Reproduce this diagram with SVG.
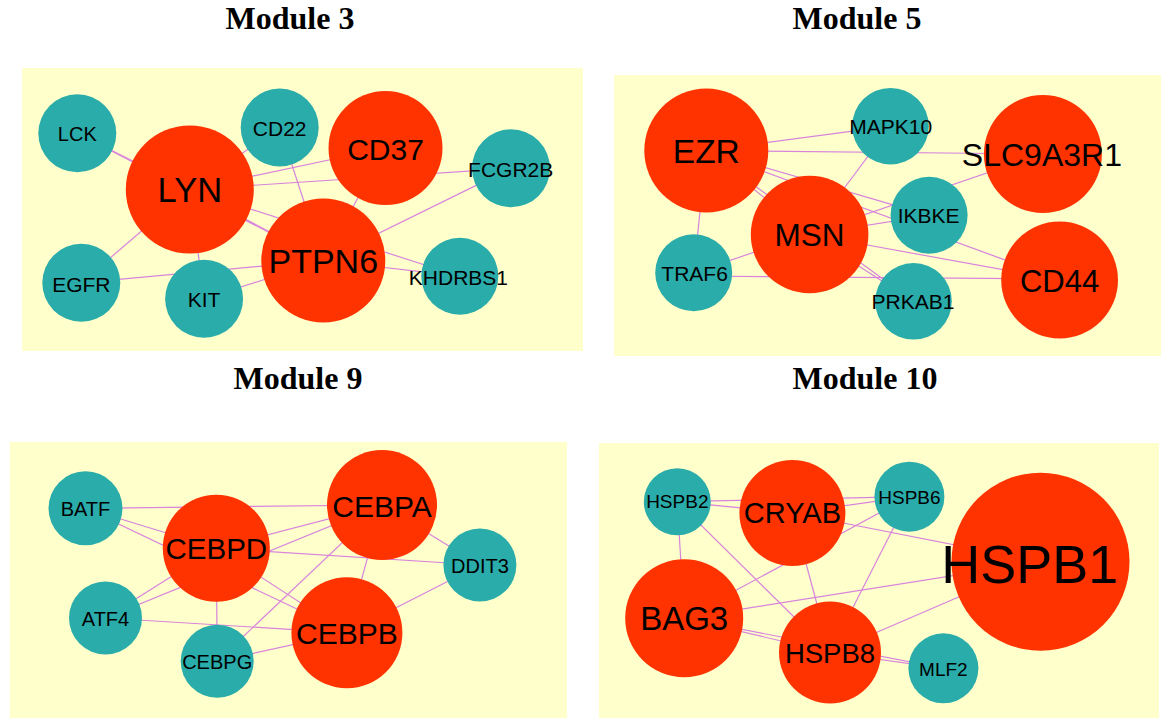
<svg xmlns="http://www.w3.org/2000/svg" width="1165" height="721" viewBox="0 0 1165 721">
<style>
.bg{fill:#FFFFCC}
.r{fill:#FF3300}
.t{fill:#2AACAA}
.e line{stroke:#D884DC;stroke-width:1.2}
.lb{font-family:"Liberation Sans",Arial,sans-serif;fill:#000;text-anchor:middle}
.ti{font-family:"Liberation Serif","Times New Roman",serif;font-weight:bold;font-size:32px;fill:#000;text-anchor:middle}
</style>
<rect width="1165" height="721" fill="#FFFFFF"/>
<text class="ti" x="290" y="28.5">Module 3</text>
<text class="ti" x="857" y="28.5">Module 5</text>
<text class="ti" x="298" y="388.5">Module 9</text>
<text class="ti" x="865" y="388.5">Module 10</text>
<rect class="bg" x="22" y="68" width="561" height="283"/>
<rect class="bg" x="614" y="75" width="547" height="281"/>
<rect class="bg" x="10" y="442" width="557" height="276"/>
<rect class="bg" x="599" y="443" width="560" height="275"/>
<g id="connectors" class="e">
<line x1="77.3" y1="133.3" x2="189.8" y2="189.5"/>
<line x1="77.3" y1="133.3" x2="323.3" y2="260.5"/>
<line x1="189.8" y1="189.5" x2="279.7" y2="127.5"/>
<line x1="189.8" y1="189.5" x2="385.5" y2="148"/>
<line x1="189.8" y1="189.5" x2="511" y2="168.3"/>
<line x1="189.8" y1="189.5" x2="323.3" y2="260.5"/>
<line x1="189.8" y1="189.5" x2="459.8" y2="276.2"/>
<line x1="279.7" y1="127.5" x2="323.3" y2="260.5"/>
<line x1="385.5" y1="148" x2="323.3" y2="260.5"/>
<line x1="323.3" y1="260.5" x2="511" y2="168.3"/>
<line x1="189.8" y1="189.5" x2="81.3" y2="282.8"/>
<line x1="189.8" y1="189.5" x2="204.1" y2="298.8"/>
<line x1="81.3" y1="282.8" x2="323.3" y2="260.5"/>
<line x1="204.1" y1="298.8" x2="323.3" y2="260.5"/>
<line x1="323.3" y1="260.5" x2="459.8" y2="276.2"/>
<line x1="706.3" y1="150.5" x2="890.5" y2="126.2"/>
<line x1="706.3" y1="150.5" x2="1042.9" y2="154"/>
<line x1="706.3" y1="150.5" x2="693.7" y2="272.8"/>
<line x1="706.3" y1="150.5" x2="809.6" y2="234.5"/>
<line x1="706.3" y1="150.5" x2="929.1" y2="215.3"/>
<line x1="706.3" y1="150.5" x2="913.5" y2="301.3"/>
<line x1="706.3" y1="150.5" x2="1059.6" y2="280"/>
<line x1="890.5" y1="126.2" x2="809.6" y2="234.5"/>
<line x1="809.6" y1="234.5" x2="929.1" y2="215.3"/>
<line x1="809.6" y1="234.5" x2="1059.6" y2="280"/>
<line x1="809.6" y1="234.5" x2="913.5" y2="301.3"/>
<line x1="693.7" y1="272.8" x2="1042.9" y2="154"/>
<line x1="693.7" y1="276" x2="1059.6" y2="279"/>
<line x1="85.5" y1="508.3" x2="382" y2="505"/>
<line x1="85.5" y1="508.3" x2="216.3" y2="548.2"/>
<line x1="85.5" y1="508.3" x2="346.9" y2="632.8"/>
<line x1="216.3" y1="548.2" x2="382" y2="505"/>
<line x1="105.5" y1="618" x2="382" y2="505"/>
<line x1="105.5" y1="618" x2="216.3" y2="548.2"/>
<line x1="217.2" y1="661.3" x2="382" y2="505"/>
<line x1="216.3" y1="548.2" x2="479.9" y2="565"/>
<line x1="382" y1="505" x2="479.9" y2="565"/>
<line x1="382" y1="505" x2="346.9" y2="632.8"/>
<line x1="479.9" y1="565" x2="346.9" y2="632.8"/>
<line x1="216.3" y1="548.2" x2="217.2" y2="661.3"/>
<line x1="105.5" y1="618" x2="346.9" y2="632.8"/>
<line x1="217.2" y1="661.3" x2="346.9" y2="632.8"/>
<line x1="216.3" y1="548.2" x2="346.9" y2="632.8"/>
<line x1="677.3" y1="501.7" x2="792.4" y2="513"/>
<line x1="677.3" y1="501.7" x2="909.4" y2="496.7"/>
<line x1="792.4" y1="513" x2="909.4" y2="496.7"/>
<line x1="677.3" y1="501.7" x2="684.2" y2="618.2"/>
<line x1="677.3" y1="501.7" x2="830" y2="652.5"/>
<line x1="792.4" y1="513" x2="1040.5" y2="561.7"/>
<line x1="909.4" y1="496.7" x2="684.2" y2="618.2"/>
<line x1="909.4" y1="496.7" x2="830" y2="652.5"/>
<line x1="792.4" y1="513" x2="830" y2="652.5"/>
<line x1="684.2" y1="618.2" x2="1040.5" y2="561.7"/>
<line x1="830" y1="652.5" x2="1040.5" y2="561.7"/>
<line x1="684.2" y1="618.2" x2="830" y2="652.5"/>
<line x1="684.2" y1="618.2" x2="943.4" y2="668.3"/>
<line x1="830" y1="652.5" x2="943.4" y2="668.3"/>
</g>
<g id="LCK"><circle class="t" cx="77.3" cy="133.3" r="39"/><text class="lb" x="77.3" y="141" font-size="20">LCK</text></g>
<g id="CD22"><circle class="t" cx="279.7" cy="127.5" r="39"/><text class="lb" x="279.7" y="136" font-size="21">CD22</text></g>
<g id="LYN"><circle class="r" cx="189.8" cy="189.5" r="64"/><text class="lb" x="189.8" y="202.3" font-size="34.5">LYN</text></g>
<g id="CD37"><circle class="r" cx="385.5" cy="148" r="57"/><text class="lb" x="385.5" y="160" font-size="30">CD37</text></g>
<g id="FCGR2B"><circle class="t" cx="511" cy="168.3" r="39"/><text class="lb" x="510.7" y="176.7" font-size="21">FCGR2B</text></g>
<g id="PTPN6"><circle class="r" cx="323.3" cy="260.5" r="62"/><text class="lb" x="323.3" y="273.3" font-size="34">PTPN6</text></g>
<g id="KHDRBS1"><circle class="t" cx="459.8" cy="276.2" r="38.5"/><text class="lb" x="458.4" y="285" font-size="21">KHDRBS1</text></g>
<g id="EGFR"><circle class="t" cx="81.3" cy="282.8" r="39"/><text class="lb" x="81.3" y="291.7" font-size="21">EGFR</text></g>
<g id="KIT"><circle class="t" cx="204.1" cy="298.8" r="39"/><text class="lb" x="204.1" y="306.7" font-size="21">KIT</text></g>
<g id="EZR"><circle class="r" cx="706.3" cy="150.5" r="62"/><text class="lb" x="706.3" y="162.7" font-size="33.5">EZR</text></g>
<g id="MAPK10"><circle class="t" cx="890.5" cy="126.2" r="38.3"/><text class="lb" x="890.7" y="134.3" font-size="21">MAPK10</text></g>
<g id="SLC9A3R1"><circle class="r" cx="1042.9" cy="154" r="59"/><text class="lb" x="1041.9" y="166" font-size="32">SLC9A3R1</text></g>
<g id="MSN"><circle class="r" cx="809.6" cy="234.5" r="58.8"/><text class="lb" x="809.6" y="246" font-size="31.5">MSN</text></g>
<g id="IKBKE"><circle class="t" cx="929.1" cy="215.3" r="38.5"/><text class="lb" x="928.6" y="223.3" font-size="21">IKBKE</text></g>
<g id="TRAF6"><circle class="t" cx="693.7" cy="272.8" r="38.5"/><text class="lb" x="694.6" y="281" font-size="21">TRAF6</text></g>
<g id="PRKAB1"><circle class="t" cx="913.5" cy="301.3" r="38.3"/><text class="lb" x="913" y="309.3" font-size="21">PRKAB1</text></g>
<g id="CD44"><circle class="r" cx="1059.6" cy="280" r="58.4"/><text class="lb" x="1059.6" y="291.7" font-size="31">CD44</text></g>
<g id="BATF"><circle class="t" cx="85.5" cy="508.3" r="37"/><text class="lb" x="85.5" y="516" font-size="20">BATF</text></g>
<g id="CEBPD"><circle class="r" cx="216.3" cy="548.2" r="53.5"/><text class="lb" x="216.3" y="559" font-size="29.5">CEBPD</text></g>
<g id="CEBPA"><circle class="r" cx="382" cy="505" r="55"/><text class="lb" x="382" y="516.7" font-size="30">CEBPA</text></g>
<g id="DDIT3"><circle class="t" cx="479.9" cy="565" r="36.5"/><text class="lb" x="479.9" y="572.7" font-size="20">DDIT3</text></g>
<g id="ATF4"><circle class="t" cx="105.5" cy="618" r="36.5"/><text class="lb" x="105.5" y="625.7" font-size="20">ATF4</text></g>
<g id="CEBPG"><circle class="t" cx="217.2" cy="661.3" r="36.5"/><text class="lb" x="217.2" y="669.3" font-size="20">CEBPG</text></g>
<g id="CEBPB"><circle class="r" cx="346.9" cy="632.8" r="55.5"/><text class="lb" x="346.9" y="644" font-size="30">CEBPB</text></g>
<g id="HSPB2"><circle class="t" cx="677.3" cy="501.7" r="33.5"/><text class="lb" x="677.3" y="508" font-size="19">HSPB2</text></g>
<g id="CRYAB"><circle class="r" cx="792.4" cy="513" r="53"/><text class="lb" x="792.4" y="523.3" font-size="29">CRYAB</text></g>
<g id="HSPB6"><circle class="t" cx="909.4" cy="496.7" r="35"/><text class="lb" x="909.4" y="504" font-size="19">HSPB6</text></g>
<g id="HSPB1"><circle class="r" cx="1040.5" cy="561.7" r="89"/><text class="lb" x="1029.8" y="583.3" font-size="54">HSPB1</text></g>
<g id="BAG3"><circle class="r" cx="684.2" cy="618.2" r="59"/><text class="lb" x="684.2" y="630" font-size="33">BAG3</text></g>
<g id="HSPB8"><circle class="r" cx="830" cy="652.5" r="51"/><text class="lb" x="830" y="662.7" font-size="27.5">HSPB8</text></g>
<g id="MLF2"><circle class="t" cx="943.4" cy="668.3" r="35"/><text class="lb" x="943.4" y="676" font-size="19">MLF2</text></g>
</svg>
